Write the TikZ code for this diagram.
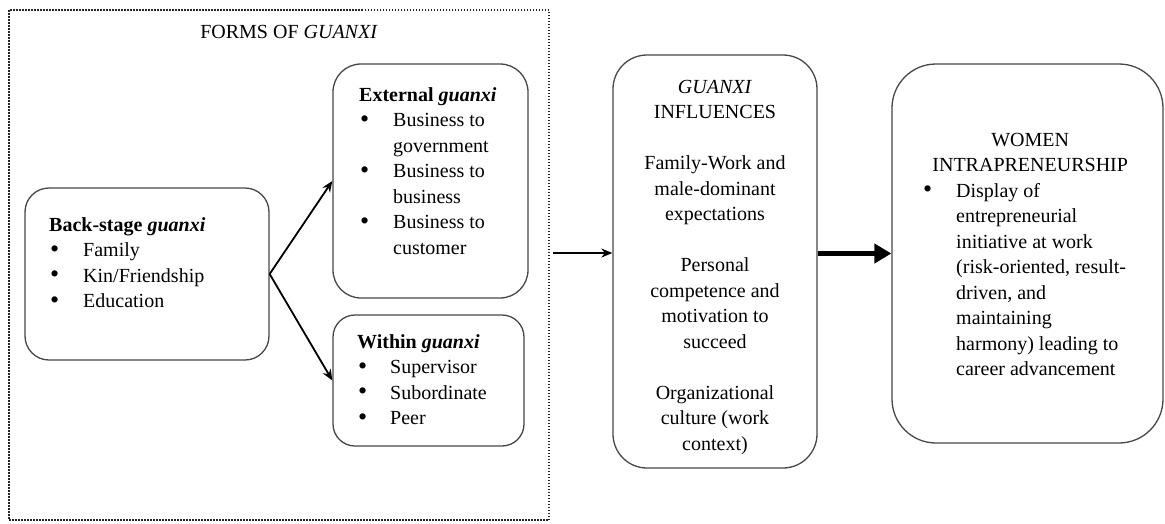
\documentclass[tikz,border=0pt]{standalone}
\usepackage{fontspec}
\setmainfont{Liberation Serif}
\usetikzlibrary{arrows.meta}
\newcommand\blt{\hspace{1pt}\raisebox{-0.5pt}{\scalebox{1.3}{\textbullet}}}
\begin{document}
\begin{tikzpicture}[x=1pt,y=-1pt,
  box/.style={draw=black!72, line width=1.3pt, rounded corners=#1, inner sep=0pt},
  box/.default=22pt,
  frame/.style={draw=black!85, line width=2pt, dash pattern=on 1.5pt off 1.5pt, inner sep=0pt},
  txt/.style={inner sep=0pt, anchor=north west, font=\fontsize{20}{25.5}\selectfont, text=black},
  ctxt/.style={inner sep=0pt, anchor=north, font=\fontsize{20}{25.5}\selectfont, text=black},
  arr/.style={-{Stealth[length=11pt,width=9pt]}, line width=1.8pt, draw=black},
  bigarr/.style={-{Triangle[length=17pt,width=19pt]}, line width=4.5pt, draw=black}]
\useasboundingbox (0,0) rectangle (1165,523);
% frame
\node[frame, minimum width=540pt, minimum height=510pt] (frame) at (279,265) {};
\node[inner sep=0pt, font=\fontsize{20}{25.5}\selectfont] (title) at (289,32) {FORMS OF \textit{GUANXI}};
% boxes
\node[box=24pt, minimum width=244pt, minimum height=172pt] (back) at (147,274) {};
\node[box=28pt, minimum width=195pt, minimum height=234pt] (ext) at (430.5,181) {};
\node[box=22pt, minimum width=191pt, minimum height=131pt] (within) at (428.5,380.5) {};
\node[box=34pt, minimum width=204pt, minimum height=413pt] (infl) at (715,261.5) {};
\node[box=44pt, minimum width=271pt, minimum height=379pt] (women) at (1027.5,253.5) {};
% texts
\node[txt] (backtxt) at (49,213) {\begin{tabular}{@{}p{34pt}@{}l@{}}\multicolumn{2}{@{}l@{}}{\textbf{Back-stage \textit{guanxi}}}\\ \blt & Family\\ \blt & Kin/Friendship\\ \blt & Education\end{tabular}};
\node[txt] (exttxt) at (359,83) {\begin{tabular}{@{}p{34pt}@{}l@{}}\multicolumn{2}{@{}l@{}}{\textbf{External \textit{guanxi}}}\\ \blt & Business to\\ & government\\ \blt & Business to\\ & business\\ \blt & Business to\\ & customer\end{tabular}};
\node[txt] (withintxt) at (357,330) {\begin{tabular}{@{}p{33pt}@{}l@{}}\multicolumn{2}{@{}l@{}}{\textbf{Within \textit{guanxi}}}\\ \blt & Supervisor\\ \blt & Subordinate\\ \blt & Peer\end{tabular}};
\node[ctxt] (infltxt) at (715,75) {\begin{tabular}{@{}c@{}}\textit{GUANXI}\\ INFLUENCES\\ \\ Family-Work and\\ male-dominant\\ expectations\\ \\ Personal\\ competence and\\ motivation to\\ succeed\\ \\ Organizational\\ culture (work\\ context)\end{tabular}};
\node[txt] (womentxt) at (922,128) {\begin{tabular}{@{}p{34pt}@{}p{182pt}@{}}\multicolumn{2}{@{}c@{}}{WOMEN}\\ \multicolumn{2}{@{}c@{}}{INTRAPRENEURSHIP}\\ \blt & Display of\\ & entrepreneurial\\ & initiative at work\\ & (risk-oriented, result-\\ & driven, and\\ & maintaining\\ & harmony) leading to\\ & career advancement\end{tabular}};
% connectors
\coordinate (a1) at (553,253);
\draw[arr] (back.east) -- (ext.west);
\draw[arr] (back.east) -- (within.west);
\draw[arr] (a1) -- (a1 -| infl.west);
\draw[bigarr] (women.west -| infl.east) -- (women.west);
\end{tikzpicture}
\end{document}
